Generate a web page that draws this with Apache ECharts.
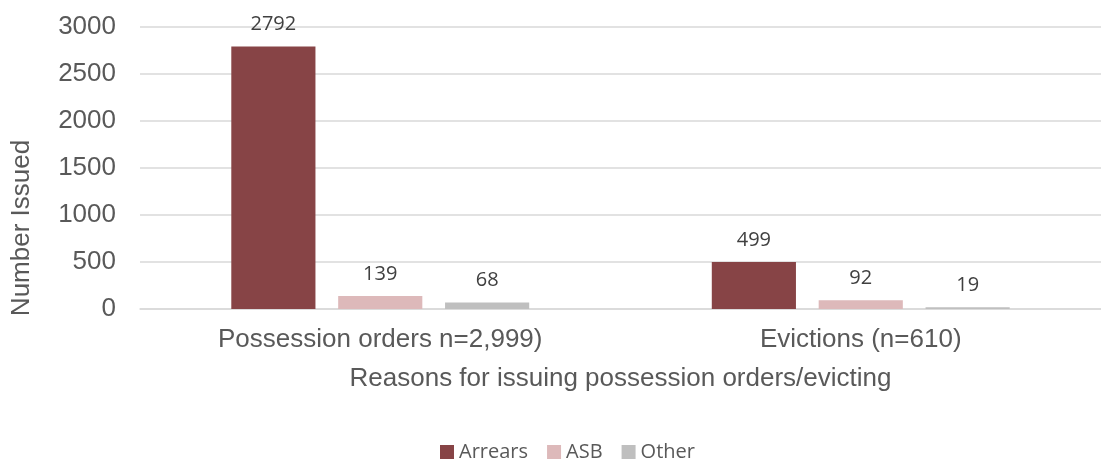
<!DOCTYPE html>
<html>
<head>
<meta charset="utf-8">
<style>
  html, body { margin: 0; padding: 0; background: #ffffff; }
  #chart { width: 1101px; height: 459px; }
</style>
<script src="https://cdn.jsdelivr.net/npm/echarts@6/dist/echarts.min.js"></script>
</head>
<body>
<div id="chart"></div>
<script>
// Reasons for issuing possession orders / evicting
const categories = ['Possession orders n=2,999)', 'Evictions (n=610)'];
const arrears = [2792, 499];
const asb = [139, 92];
const other = [68, 19];
const yTicks = { min: 0, max: 3000, interval: 500 };

const chart = echarts.init(document.getElementById('chart'), null, { renderer: 'canvas' });

const labelStyle = {
  show: true,
  position: 'top',
  distance: 12,
  fontFamily: 'Open Sans',
  fontSize: 20,
  color: '#404040'
};

function barSeries(name, data, color) {
  return {
    name: name,
    type: 'bar',
    data: data,
    barGap: '27%',
    barCategoryGap: '38%',
    itemStyle: { color: color },
    label: labelStyle
  };
}

chart.setOption({
  animation: false,
  grid: { left: 140, top: 27, width: 968, bottom: 150, containLabel: false },
  legend: {
    left: 435,
    top: 437,
    itemWidth: 14,
    itemHeight: 14,
    itemGap: 19,
    icon: 'rect',
    textStyle: { fontFamily: 'Open Sans', fontSize: 20, color: '#595959' },
    data: ['Arrears', 'ASB', 'Other']
  },
  xAxis: {
    type: 'category',
    data: categories,
    name: 'Reasons for issuing possession orders/evicting',
    nameLocation: 'middle',
    nameGap: 57,
    nameTextStyle: { fontFamily: 'Liberation Sans', fontSize: 26, color: '#595959' },
    axisLine: { show: true, lineStyle: { color: '#d9d9d9', width: 1.5 } },
    axisTick: { show: false },
    axisLabel: { fontFamily: 'Liberation Sans', fontSize: 26, color: '#595959', margin: 18 }
  },
  yAxis: {
    type: 'value',
    min: yTicks.min,
    max: yTicks.max,
    interval: yTicks.interval,
    axisLine: { show: false },
    axisTick: { show: false },
    axisLabel: {
      fontFamily: 'Liberation Sans',
      fontSize: 26,
      color: '#595959',
      margin: 24,
      formatter: function (v) { return String(v); }
    },
    splitLine: { lineStyle: { color: '#d9d9d9', width: 1.5 } }
  },
  graphic: [{
    type: 'text',
    x: 22,
    y: 228,
    rotation: Math.PI / 2,
    style: {
      text: 'Number Issued',
      fontFamily: 'Liberation Sans',
      fontSize: 26,
      fill: '#595959',
      align: 'center',
      verticalAlign: 'middle'
    }
  }],
  series: [
    barSeries('Arrears', arrears, '#874446'),
    barSeries('ASB', asb, '#ddb9ba'),
    barSeries('Other', other, '#bfbfbf')
  ]
});
</script>
</body>
</html>
